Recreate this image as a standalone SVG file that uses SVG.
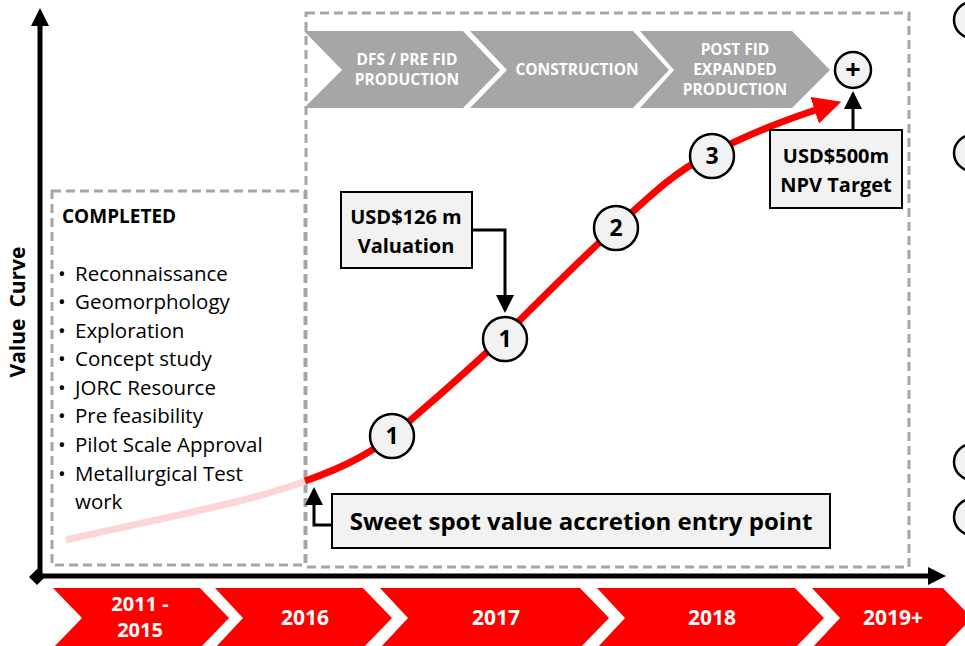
<svg xmlns="http://www.w3.org/2000/svg" width="965" height="646" viewBox="0 0 965 646">
<defs>
<style>
.dash{fill:none;stroke:#a6a6a6;stroke-width:3;stroke-dasharray:9 5}
.gch{fill:#a6a6a6}
.rch{fill:#ff0000}
.wt{font-family:"Open Sans","Liberation Sans",sans-serif;font-weight:bold;fill:#fff;text-anchor:middle}
.node{fill:#f2f2f2;stroke:#000;stroke-width:2.5}
.num{font-family:"Open Sans","Liberation Sans",sans-serif;font-weight:bold;font-size:23px;fill:#000;text-anchor:middle}
.bt{font-family:"Open Sans","Liberation Sans",sans-serif;font-weight:bold;fill:#000;text-anchor:middle}
.lt{font-family:"Open Sans","Liberation Sans",sans-serif;font-size:20.5px;fill:#000}
.conn{fill:none;stroke:#000;stroke-width:3}
</style>
<marker id="ab" markerWidth="6" markerHeight="6" refX="5" refY="3" orient="auto" markerUnits="strokeWidth"><path d="M0,0 L6,3 L0,6 z" fill="#000"/></marker>
<marker id="ar" markerWidth="4" markerHeight="4" refX="2" refY="2" orient="auto" markerUnits="strokeWidth"><path d="M0,0 L4,2 L0,4 z" fill="#ff0000"/></marker>
</defs>

<!-- dashed boxes -->
<rect class="dash" x="52" y="191" width="253" height="374"/>
<rect class="dash" x="306" y="13" width="603" height="554"/>

<!-- phase chevrons -->
<g id="phase-dfs">
<polygon class="gch" points="304,31 463,31 500,70 463,108 304,108 342,70"/>
<text class="wt" font-size="15.5" x="407" y="65">DFS / PRE FID</text>
<text class="wt" font-size="15.5" x="407" y="85">PRODUCTION</text>
</g>
<g id="phase-construction">
<polygon class="gch" points="470,31 633,31 669,70 633,108 470,108 507,70"/>
<text class="wt" font-size="15.5" x="577" y="75">CONSTRUCTION</text>
</g>
<g id="phase-postfid">
<polygon class="gch" points="640,31 792,31 830,70 792,108 640,108 674,70"/>
<text class="wt" font-size="15.5" x="735" y="55">POST FID</text>
<text class="wt" font-size="15.5" x="735" y="75">EXPANDED</text>
<text class="wt" font-size="15.5" x="735" y="95">PRODUCTION</text>
</g>

<!-- axes -->
<g id="axes">
<line x1="40" y1="577" x2="40" y2="24" stroke="#000" stroke-width="5"/>
<polygon points="40,8 49,26 31,26" fill="#000"/>
<line x1="37" y1="576" x2="928" y2="576" stroke="#000" stroke-width="5"/>
<polygon points="946,576 928,567 928,585" fill="#000"/>
<polygon points="37,569 45,577 37,585 29,577" fill="#000"/>
</g>
<text x="25" y="312" transform="rotate(-90 25 312)" class="bt" font-size="21" style="white-space:pre">Value  Curve</text>

<!-- timeline -->
<g id="year-2011">
<polygon class="rch" points="53,588 200,588 229,618 200,648 53,648 82,618"/>
<text class="wt" font-size="20" x="140" y="611">2011 -</text>
<text class="wt" font-size="20" x="140" y="637">2015</text>
</g>
<g id="year-2016">
<polygon class="rch" points="215,588 363,588 392,618 363,648 215,648 243,618"/>
<text class="wt" font-size="21" x="305" y="625">2016</text>
</g>
<g id="year-2017">
<polygon class="rch" points="380,588 580,588 609,618 580,648 380,648 408,618"/>
<text class="wt" font-size="21" x="496" y="625">2017</text>
</g>
<g id="year-2018">
<polygon class="rch" points="597,588 795,588 824,618 795,648 597,648 625,618"/>
<text class="wt" font-size="21" x="712" y="625">2018</text>
</g>
<g id="year-2019">
<polygon class="rch" points="812,588 943,588 972,618 943,648 812,648 840,618"/>
<text class="wt" font-size="21" x="893" y="625">2019+</text>
</g>

<!-- completed box text -->
<g id="completed">
<text x="62" y="223" font-family="'Open Sans','Liberation Sans',sans-serif" font-weight="bold" font-size="19">COMPLETED</text>
<text class="lt" x="58" y="281">•</text><text class="lt" x="75" y="281">Reconnaissance</text>
<text class="lt" x="58" y="309">•</text><text class="lt" x="75" y="309">Geomorphology</text>
<text class="lt" x="58" y="338">•</text><text class="lt" x="75" y="338">Exploration</text>
<text class="lt" x="58" y="366">•</text><text class="lt" x="75" y="366">Concept study</text>
<text class="lt" x="58" y="395">•</text><text class="lt" x="75" y="395">JORC Resource</text>
<text class="lt" x="58" y="423">•</text><text class="lt" x="75" y="423">Pre feasibility</text>
<text class="lt" x="58" y="452">•</text><text class="lt" x="75" y="452">Pilot Scale Approval</text>
<text class="lt" x="58" y="481">•</text><text class="lt" x="75" y="481">Metallurgical Test</text>
<text class="lt" x="75" y="509">work</text>
</g>

<!-- connectors -->
<g id="connectors">
<path d="M66,540 C150,520 240,505 306,481" fill="none" stroke="#fcd5d5" stroke-width="7"/>
<path d="M305,481 C345,467 375,452 405,425 C445,390 475,365 510,330 C555,285 585,255 615,228 C650,196 675,172 705,157 C745,135 790,118 828,106" fill="none" stroke="#ff0000" stroke-width="7" marker-end="url(#ar)"/>
<path class="conn" d="M472,230 L505,230 L505,310" marker-end="url(#ab)"/>
<path class="conn" d="M853,130 L853,94" marker-end="url(#ab)"/>
<path class="conn" d="M332,525 L314,525 L314,490" marker-end="url(#ab)"/>
</g>

<!-- nodes -->
<g id="node-1a"><circle class="node" cx="392" cy="436" r="22"/><text class="num" x="392" y="444">1</text></g>
<g id="node-1b"><circle class="node" cx="505" cy="339" r="22"/><text class="num" x="505" y="347">1</text></g>
<g id="node-2"><circle class="node" cx="616" cy="228" r="22"/><text class="num" x="616" y="236">2</text></g>
<g id="node-3"><circle class="node" cx="712" cy="156" r="22"/><text class="num" x="712" y="164">3</text></g>
<g id="node-plus"><circle class="node" cx="853" cy="70" r="18"/><text class="num" x="853" y="79" style="font-size:27px">+</text></g>

<g id="valuation">
<rect x="341" y="192" width="131" height="76" fill="#f2f2f2" stroke="#000" stroke-width="2"/>
<text class="bt" font-size="20" x="406" y="224">USD$126 m</text>
<text class="bt" font-size="20" x="406" y="253">Valuation</text>
</g>
<g id="npv">
<rect x="770" y="130" width="132" height="78" fill="#f2f2f2" stroke="#000" stroke-width="2"/>
<text class="bt" font-size="20" x="836" y="163">USD$500m</text>
<text class="bt" font-size="20" x="836" y="192">NPV Target</text>
</g>
<g id="sweet-spot">
<rect x="332" y="494" width="498" height="54" fill="#f2f2f2" stroke="#000" stroke-width="2"/>
<text class="bt" font-size="24" x="581" y="530">Sweet spot value accretion entry point</text>
</g>

<!-- partial nodes at right edge -->
<g id="edge-nodes">
<circle class="node" cx="972" cy="20" r="18"/>
<circle class="node" cx="972" cy="153" r="18"/>
<circle class="node" cx="972" cy="462" r="18"/>
<circle class="node" cx="972" cy="517" r="18"/>
</g>
</svg>
